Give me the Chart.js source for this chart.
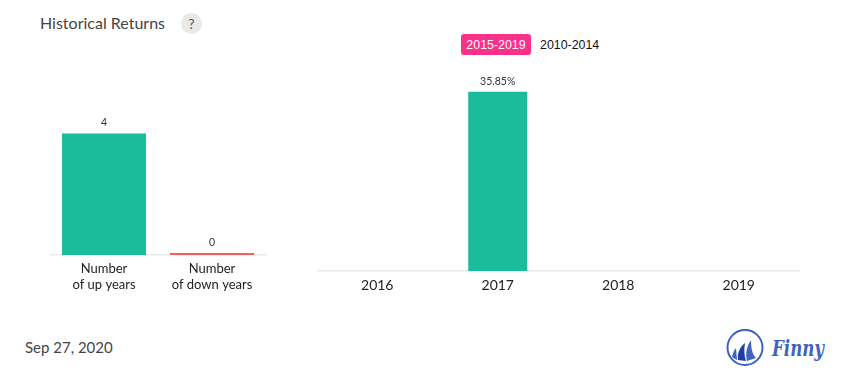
<!DOCTYPE html>
<html>
<head>
<meta charset="utf-8">
<script src="https://cdn.jsdelivr.net/npm/chart.js@4"></script>
<style>
html,body{margin:0;padding:0;background:#fff;}
body{width:855px;height:382px;position:relative;overflow:hidden;font-family:Lato,sans-serif;}
.abs{position:absolute;white-space:nowrap;}
canvas{display:block;}
</style>
</head>
<body>
<div class="abs" style="left:40px;top:13px;font-size:16px;line-height:20px;color:#444;">Historical Returns</div>
<div class="abs" style="left:181px;top:13px;width:21px;height:21px;border-radius:50%;background:#e9e9e9;color:#555;font-size:14px;line-height:21px;text-align:center;">?</div>
<div class="abs" style="left:461px;top:34px;width:70px;height:21px;border-radius:3px;background:#fb3088;color:#fff;font:12.4px/22px 'Liberation Sans',sans-serif;text-align:center;">2015-2019</div>
<div class="abs" style="left:540px;top:34px;color:#111;font:12.4px/22px 'Liberation Sans',sans-serif;">2010-2014</div>
<div class="abs" style="left:50px;top:103px;width:217px;height:197px;"><canvas id="left"></canvas></div>
<div class="abs" style="left:317px;top:71px;width:483px;height:240px;"><canvas id="right"></canvas></div>
<div class="abs" style="left:25px;top:337px;font-size:15px;line-height:20px;color:#444;">Sep 27, 2020</div>
<svg class="abs" style="left:724px;top:325px;" width="110" height="42" viewBox="0 0 110 42">
  <circle cx="21" cy="22.5" r="17.5" fill="none" stroke="#3f62c4" stroke-width="2"/>
  <path d="M8 32 C9 28 10 25 12 23 L13 35 Z" fill="#3f62c4"/>
  <path d="M14 35 C13 28 16 22 21 18 C20 24 20 30 22 36 Z" fill="#1f3fa3"/>
  <path d="M23 36 C21 28 23 21 27 15 C27 22 28 29 32 33 Z" fill="#3f62c4"/>
  <text x="48" y="31" font-family="'DejaVu Serif',serif" font-style="italic" font-weight="bold" font-size="23" fill="#3f62c4" textLength="52" lengthAdjust="spacingAndGlyphs">Finny</text>
</svg>
<script>
const summaryCategories = [["Number", "of up years"], ["Number", "of down years"]];
const summaryValues = [4, 0];
const summaryColors = ["#1abc9c", "#ff5a5a"];
const summaryLabels = ["4", "0"];

const yearCategories = ["2016", "2017", "2018", "2019"];
const yearValues = [null, 35.85, null, null];
const yearLabels = [null, "35.85%", null, null];

const valueLabelPlugin = {
  id: "valueLabels",
  afterDatasetsDraw(chart, args, opts) {
    const ctx = chart.ctx;
    ctx.save();
    ctx.font = "10.5px Lato, sans-serif";
    ctx.fillStyle = "#333";
    ctx.textAlign = "center";
    ctx.textBaseline = "alphabetic";
    chart.getDatasetMeta(0).data.forEach((bar, i) => {
      const t = opts.labels[i];
      if (t) ctx.fillText(t, bar.x, bar.y - 7);
    });
    ctx.restore();
  }
};

function makeChart(id, cats, vals, colors, labels, yMax, ratio, axisHeight, fontSize) {
  return new Chart(document.getElementById(id), {
    type: "bar",
    plugins: [valueLabelPlugin],
    data: { labels: cats, datasets: [{
      data: vals, backgroundColor: colors, borderWidth: 0,
      barPercentage: ratio, categoryPercentage: 1, minBarLength: 2
    }]},
    options: {
      responsive: true, maintainAspectRatio: false, animation: false,
      layout: { padding: { right: 1 } },
      plugins: { legend: { display: false }, tooltip: { enabled: false },
                 title: { display: false }, valueLabels: { labels } },
      scales: {
        y: { display: false, min: 0, max: yMax },
        x: {
          afterFit(s) { s.height = axisHeight; },
          grid: { display: false, drawTicks: false },
          border: { color: "#e9e9e9", width: 1.5 },
          ticks: { padding: 6, maxRotation: 0, color: "#222",
                   font: { family: "Lato", size: fontSize, lineHeight: 1.2 } }
        }
      }
    }
  });
}

makeChart("left", summaryCategories, summaryValues, summaryColors, summaryLabels, 5, 0.778, 45, 13);
makeChart("right", yearCategories, yearValues, ["#1abc9c","#1abc9c","#1abc9c","#1abc9c"], yearLabels, 40, 0.49, 40, 14);
</script>
</body>
</html>
